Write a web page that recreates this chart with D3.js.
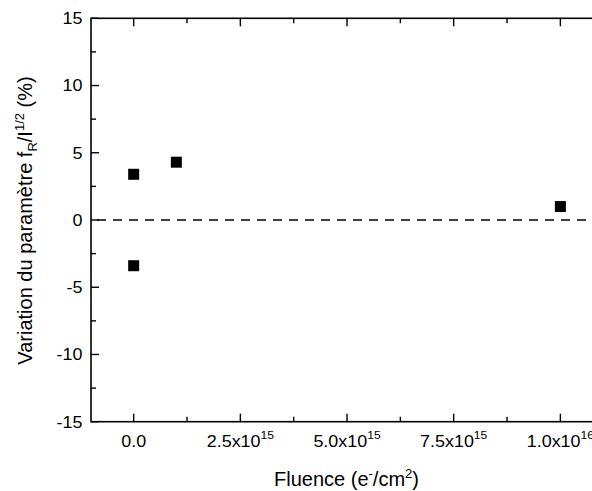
<!DOCTYPE html>
<html><head><meta charset="utf-8">
<script src="https://cdn.jsdelivr.net/npm/d3@7"></script>
<style>
body{margin:0;background:#fff;}
svg{display:block;font-family:Arial,"Liberation Sans",sans-serif;}
</style></head>
<body><svg id="c" width="592" height="491"></svg>
<script>
const fluence = [0, 0, 1e15, 1e16];
const variation = [3.4, -3.4, 4.3, 1.0];
const xTicks = [0, 2.5e15, 5e15, 7.5e15, 1e16];
const xTickMantissa = ["0.0", "2.5", "5.0", "7.5", "1.0"];
const xTickExp = ["", "15", "15", "15", "16"];
const yTicks = [-15, -10, -5, 0, 5, 10, 15];
const xMinor = [1.25e15, 3.75e15, 6.25e15, 8.75e15];
const yMinor = [-12.5, -7.5, -2.5, 2.5, 7.5, 12.5];

const svg = d3.select("#c");
const L = 91, T = 18.3, B = 421.7;
const x = d3.scaleLinear().domain([-1e15, 1.1e16]).range([L, L + 12 * 42.67]);
const y = d3.scaleLinear().domain([-15, 15]).range([B, T]);
const R = x.range()[1];
const SX = 1.1;

// frame
svg.append("rect").attr("x", L).attr("y", T).attr("width", R - L).attr("height", B - T)
  .attr("fill", "none").attr("stroke", "#000").attr("stroke-width", 1.6);

// ticks (inward)
const g = svg.append("g").attr("stroke", "#000").attr("stroke-width", 1.4);
xTicks.forEach(v => {
  g.append("line").attr("x1", x(v)).attr("x2", x(v)).attr("y1", B).attr("y2", B - 8);
  g.append("line").attr("x1", x(v)).attr("x2", x(v)).attr("y1", T).attr("y2", T + 8);
});
xMinor.forEach(v => {
  g.append("line").attr("x1", x(v)).attr("x2", x(v)).attr("y1", B).attr("y2", B - 5);
  g.append("line").attr("x1", x(v)).attr("x2", x(v)).attr("y1", T).attr("y2", T + 5);
});
yTicks.forEach(v => {
  g.append("line").attr("x1", L).attr("x2", L + 8).attr("y1", y(v)).attr("y2", y(v));
});
yMinor.forEach(v => {
  g.append("line").attr("x1", L).attr("x2", L + 5).attr("y1", y(v)).attr("y2", y(v));
});

// y tick labels
yTicks.forEach(v => {
  svg.append("text").attr("transform", `translate(${L - 8.5},${y(v) + 5.8}) scale(${SX},1)`)
    .attr("text-anchor", "end").attr("font-size", 16.3).text(v);
});

// x tick labels
xTicks.forEach((v, i) => {
  const t = svg.append("text").attr("transform", `translate(${x(v)},446.7) scale(${SX},1)`)
    .attr("text-anchor", "middle").attr("font-size", 16.3);
  if (xTickExp[i] === "") {
    t.text(xTickMantissa[i]);
  } else {
    t.append("tspan").text(xTickMantissa[i] + "x10");
    t.append("tspan").attr("font-size", 11).attr("dy", -7.5).text(xTickExp[i]);
  }
});

// zero dashed line
svg.append("line").attr("x1", L + 6).attr("x2", R).attr("y1", y(0)).attr("y2", y(0))
  .attr("stroke", "#000").attr("stroke-width", 1.6).attr("stroke-dasharray", "9,7");

// points
svg.append("g").selectAll("rect").data(fluence).join("rect")
  .attr("x", (d) => x(d) - 5.5).attr("y", (d, i) => y(variation[i]) - 5.5)
  .attr("width", 11).attr("height", 11).attr("fill", "#000");

// x title
const xt = svg.append("text").attr("x", 346.5).attr("y", 485.5).attr("text-anchor", "middle").attr("font-size", 20);
xt.append("tspan").text("Fluence (e");
xt.append("tspan").attr("font-size", 13).attr("dy", -8).text("-");
xt.append("tspan").attr("dy", 8).text("/cm");
xt.append("tspan").attr("font-size", 13).attr("dy", -8).text("2");
xt.append("tspan").attr("dy", 8).text(")");

// y title
const yt = svg.append("text").attr("transform", "translate(32,220.5) rotate(-90)")
  .attr("text-anchor", "middle").attr("font-size", 20);
yt.append("tspan").text("Variation du paramètre f");
yt.append("tspan").attr("font-size", 13).attr("dy", 5).text("R");
yt.append("tspan").attr("dy", -5).text("/I");
yt.append("tspan").attr("font-size", 13).attr("dy", -8).text("1/2");
yt.append("tspan").attr("dy", 8).text(" (%)");
</script></body></html>
